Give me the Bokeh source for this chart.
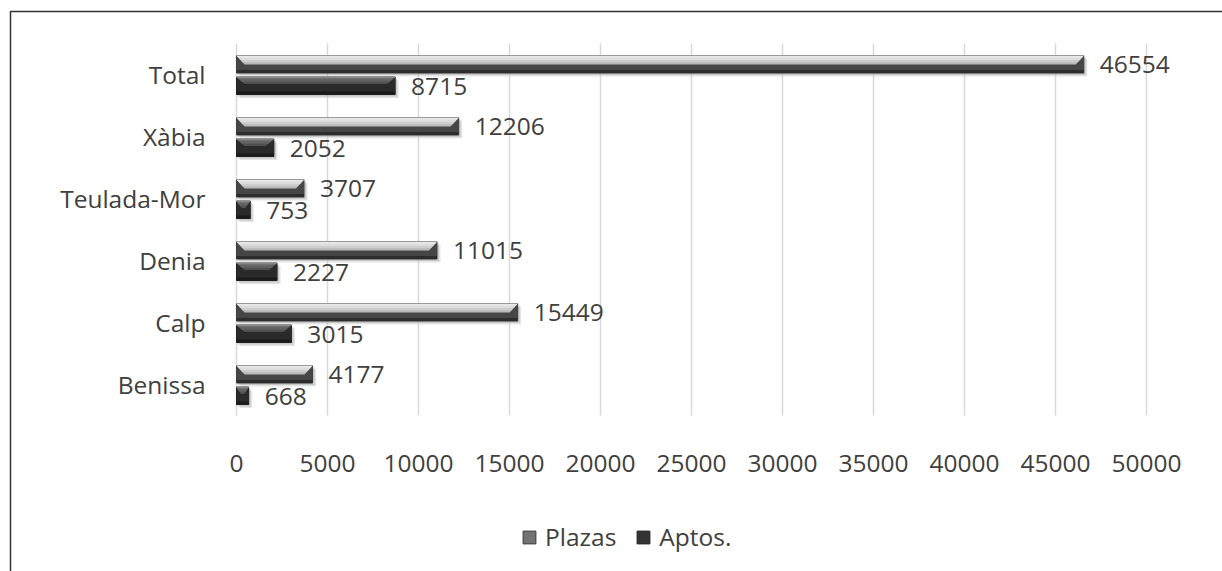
from bokeh.plotting import figure
from bokeh.models import Range1d, Legend, LegendItem, BoxAnnotation
from bokeh.core.properties import value
from bokeh.embed import file_html
from bokeh.resources import INLINE

# Oferta de alojamiento: plazas y apartamentos por municipio
municipios = ["Benissa", "Calp", "Denia", "Teulada-Mor", "Xàbia", "Total"]
plazas = [4177, 15449, 11015, 3707, 12206, 46554]
aptos = [668, 3015, 2227, 753, 2052, 8715]
x_ticks = [0, 5000, 10000, 15000, 20000, 25000, 30000, 35000, 40000, 45000, 50000]

W, H = 1222, 571
# plot area (pixels) in which the value scale 0..50000 and the categories live
AREA_L, AREA_R, AREA_T, AREA_B = 236, 1146, 43, 415
X_MAX = x_ticks[-1]
N = len(municipios)
ux = X_MAX / (AREA_R - AREA_L)   # data units per pixel (x)
uy = N / (AREA_B - AREA_T)       # data units per pixel (y)


def xd(px):
    return (px - AREA_L) * ux


def yd(py):
    return (N - 0.5) - (py - AREA_T) * uy


FONT = "Open Sans"
FS = "24.5px"
TXT = "#404040"

p = figure(width=W, height=H, output_backend="svg", toolbar_location=None,
           x_axis_type=None, y_axis_type=None,
           x_range=Range1d(xd(0), xd(W)), y_range=Range1d(yd(H), yd(0)),
           min_border=0)
p.outline_line_color = None
p.grid.visible = False
p.background_fill_color = "white"
p.border_fill_color = "white"

pos = list(range(N))

# vertical gridlines at each value tick
p.segment(x0=x_ticks, y0=[-0.5] * len(x_ticks), x1=x_ticks, y1=[N - 0.5] * len(x_ticks),
          line_color="#d9d9d9", line_width=1.5)


def bevel_bar(vals, top_px, bot_px, base, faces, bottom_col, face_depth, swatch):
    """Bars with a bevelled look; offsets in px relative to the category centre.
    Returns the renderer used as the legend swatch."""
    tops = [i + top_px * uy for i in pos]
    bots = [i + bot_px * uy for i in pos]
    # soft drop shadow
    p.quad(left=[3 * ux] * N, right=[v + 3.5 * ux for v in vals],
           top=[t - 3.5 * uy for t in tops], bottom=[b - 3.5 * uy for b in bots],
           fill_color="#c4c4c4", fill_alpha=0.45, line_color=None)
    p.quad(left=[1 * ux] * N, right=[v + 2 * ux for v in vals],
           top=[t - 2 * uy for t in tops], bottom=[b - 2 * uy for b in bots],
           fill_color="#9a9a9a", fill_alpha=0.4, line_color=None)
    # swatch renderer (covered by the body, shown in the legend)
    sw = p.quad(left=[0] * N, right=vals, top=tops, bottom=bots,
                fill_color=swatch[0], line_color=swatch[1], line_width=1)
    # body
    p.quad(left=[0] * N, right=vals, top=tops, bottom=bots,
           fill_color=base, line_color=None)
    # darker lower edge
    p.quad(left=[0] * N, right=vals, top=[b + 3 * uy for b in bots], bottom=bots,
           fill_color=bottom_col, line_color=None)
    # upper bevel face: nested trapezoids, outer ones darker
    nf = len(faces)
    for k, col in enumerate(faces):
        frac = 1 - k / nf
        xs, ys = [], []
        for v, t in zip(vals, tops):
            inset = min(8 * ux, v * 0.35) * frac
            d = face_depth * uy * frac
            xs.append([0, v, v - inset, inset])
            ys.append([t, t, t - d, t - d])
        p.patches(xs=xs, ys=ys, fill_color=col, line_color=None)
    # thin top edge
    p.segment(x0=[0] * N, y0=tops, x1=vals, y1=tops, line_color="#9a9a9a", line_width=1)
    return sw


# Plazas: light bevelled bar above; Aptos.: dark bar below
leg_plz = bevel_bar(plazas, 19, 1.5, "#464646",
                    ["#b9b9b9", "#cdcdcd", "#dcdcdc", "#e8e8e8"], "#2c2c2c", 9,
                    ("#727272", "#3a3a3a"))
leg_apt = bevel_bar(aptos, -2.5, -20, "#2a2a2a",
                    ["#505050", "#626262", "#727272"], "#1b1b1b", 7,
                    ("#343434", "#1e1e1e"))

# value labels
p.text(x=plazas, y=[i + 10 * uy for i in pos], text=[str(v) for v in plazas],
       x_offset=16, text_baseline="middle", text_align="left",
       text_font=value(FONT), text_font_size=FS, text_color=TXT)
p.text(x=aptos, y=[i - 12 * uy for i in pos], text=[str(v) for v in aptos],
       x_offset=16, text_baseline="middle", text_align="left",
       text_font=value(FONT), text_font_size=FS, text_color=TXT)

# value-axis tick labels
p.text(x=x_ticks, y=[yd(463)] * len(x_ticks), text=[str(t) for t in x_ticks],
       text_baseline="middle", text_align="center",
       text_font=value(FONT), text_font_size=FS, text_color=TXT)

# category labels
p.text(x=[xd(205)] * N, y=pos, text=municipios,
       text_baseline="middle", text_align="right",
       text_font=value(FONT), text_font_size=FS, text_color=TXT)

legend = Legend(items=[LegendItem(label="Plazas", renderers=[leg_plz]),
                       LegendItem(label="Aptos.", renderers=[leg_apt])],
                orientation="horizontal", location=(521, 18),
                glyph_width=16, glyph_height=16, label_standoff=8, spacing=19,
                padding=0, margin=0, border_line_color=None,
                background_fill_alpha=0,
                label_text_font=FONT, label_text_font_size=FS,
                label_text_color=TXT)
p.add_layout(legend, "center")

# chart border
p.add_layout(BoxAnnotation(left=xd(10), right=xd(W + 20), top=yd(11), bottom=yd(H + 20),
                           fill_alpha=0, line_color="#333333", line_alpha=1,
                           line_width=1.5))

open("out.html", "w").write(file_html(p, INLINE))
